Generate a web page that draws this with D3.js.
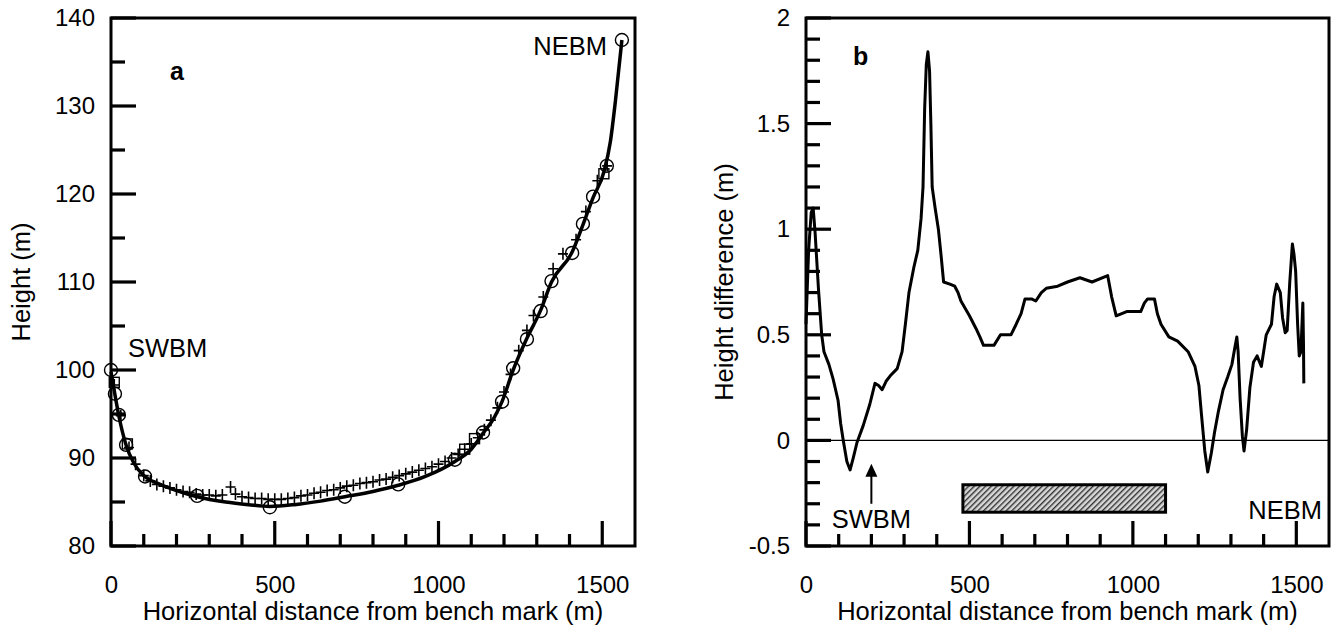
<!DOCTYPE html>
<html>
<head>
<meta charset="utf-8">
<script src="https://cdn.jsdelivr.net/npm/d3@7.9.0/dist/d3.min.js"></script>
<style>
  html, body { margin: 0; padding: 0; background: #fff; }
  svg { display: block; font-family: "Liberation Sans", Arial, Helvetica, sans-serif; }
</style>
</head>
<body>
<svg id="chart" width="1337" height="625"></svg>
<script>
// ---- data ----
const xTicks = [0, 500, 1000, 1500];
const heightTicks = [80, 90, 100, 110, 120, 130, 140];
const diffTicks = [-0.5, 0, 0.5, 1, 1.5, 2];

// panel a: fitted profile (thick line)
const profileLine = [
  [0, 99.8], [12, 97.2], [25, 94.6], [45, 91.6], [70, 89.4], [100, 88.0], [150, 87.0],
  [200, 86.3], [263, 85.6], [350, 85.0], [420, 84.7], [485, 84.5], [560, 84.7], [640, 85.1],
  [714, 85.6], [800, 86.2], [877, 86.9], [960, 87.9], [1050, 89.6], [1100, 91.0], [1136, 92.8],
  [1170, 94.6], [1194, 96.4], [1228, 100.0], [1270, 103.6], [1312, 106.8], [1345, 110.0],
  [1408, 113.4], [1441, 116.5], [1472, 119.6], [1505, 122.5], [1525, 126.0], [1540, 130.5],
  [1560, 137.5]
];
// panel a: surveyed points (open circles)
const circlePts = [
  [0, 100], [12, 97.3], [24, 94.9], [46, 91.5], [104, 87.9], [263, 85.7], [485, 84.4],
  [714, 85.6], [877, 87.0], [1050, 89.8], [1136, 92.9], [1194, 96.4], [1228, 100.2],
  [1270, 103.5], [1312, 106.7], [1345, 110.1], [1408, 113.3], [1441, 116.6], [1472, 119.7],
  [1514, 123.2], [1560, 137.5]
];
// panel a: plus markers
const plusPts = [
  [10, 98.3], [30, 94.8], [55, 91.2], [75, 89.3], [100, 88.0], [120, 87.4], [140, 87.0],
  [160, 86.8], [180, 86.6], [200, 86.4], [220, 86.2], [240, 86.1], [260, 85.9], [280, 85.8],
  [300, 85.8], [320, 85.7], [340, 85.8], [365, 86.7], [380, 85.9], [400, 85.6], [420, 85.5],
  [440, 85.4], [460, 85.4], [480, 85.3], [500, 85.3], [520, 85.3], [540, 85.4], [560, 85.5],
  [580, 85.7], [600, 85.8], [620, 86.0], [640, 86.1], [660, 86.3], [680, 86.4], [700, 86.6],
  [720, 86.8], [740, 86.9], [760, 87.1], [780, 87.2], [800, 87.3], [820, 87.5], [840, 87.6],
  [860, 87.8], [880, 88.0], [900, 88.2], [920, 88.4], [940, 88.6], [960, 88.8], [980, 89.0],
  [1000, 89.3], [1020, 89.6], [1040, 90.0], [1060, 90.4], [1080, 91.0], [1100, 91.6],
  [1120, 92.3], [1140, 93.2], [1160, 94.3], [1180, 95.7], [1200, 97.5], [1220, 99.5],
  [1245, 102.2], [1270, 104.5], [1290, 106.2], [1320, 108.3], [1350, 111.5], [1380, 113.2],
  [1420, 114.8], [1450, 118.0], [1485, 121.5], [1515, 123.2]
];
// panel a: square markers
const squarePts = [[10, 98.6], [50, 91.6], [1080, 91.0], [1110, 92.2], [1505, 122.3]];

// panel b: height difference
const diffLine = [
  [0, 0.55], [8, 0.9], [16, 1.08], [22, 1.1], [28, 0.98], [38, 0.72], [48, 0.5], [55, 0.42],
  [70, 0.36], [83, 0.29], [98, 0.19], [106, 0.08], [114, 0.0], [125, -0.1], [135, -0.14],
  [145, -0.08], [156, -0.01], [175, 0.07], [195, 0.17], [211, 0.27], [222, 0.26], [233, 0.24],
  [245, 0.28], [260, 0.31], [279, 0.34], [294, 0.42], [304, 0.55], [315, 0.7], [330, 0.82],
  [342, 0.9], [352, 1.05], [358, 1.2], [363, 1.57], [368, 1.78], [373, 1.84], [378, 1.75],
  [382, 1.5], [386, 1.2], [395, 1.1], [405, 1.0], [413, 0.88], [421, 0.75], [440, 0.74],
  [455, 0.73], [465, 0.7], [474, 0.66], [485, 0.63], [500, 0.59], [520, 0.53], [532, 0.49],
  [543, 0.45], [560, 0.45], [575, 0.45], [595, 0.5], [627, 0.5], [643, 0.55], [658, 0.6],
  [670, 0.67], [690, 0.67], [703, 0.66], [720, 0.7], [735, 0.72], [770, 0.73], [800, 0.75],
  [838, 0.77], [875, 0.75], [923, 0.78], [935, 0.68], [949, 0.59], [981, 0.61], [1024, 0.61],
  [1035, 0.65], [1045, 0.67], [1066, 0.67], [1075, 0.6], [1086, 0.55], [1110, 0.49],
  [1137, 0.47], [1169, 0.42], [1190, 0.35], [1202, 0.26], [1210, 0.12], [1220, -0.05],
  [1229, -0.15], [1240, -0.06], [1250, 0.04], [1262, 0.14], [1276, 0.24], [1290, 0.3],
  [1303, 0.36], [1312, 0.44], [1318, 0.49], [1322, 0.42], [1328, 0.2], [1335, 0.02],
  [1340, -0.05], [1348, 0.05], [1358, 0.25], [1369, 0.37], [1380, 0.4], [1393, 0.35],
  [1400, 0.42], [1408, 0.5], [1424, 0.55], [1432, 0.68], [1440, 0.74], [1451, 0.7],
  [1458, 0.58], [1466, 0.51], [1472, 0.52], [1480, 0.75], [1488, 0.93], [1493, 0.88],
  [1498, 0.8], [1504, 0.55], [1509, 0.4], [1514, 0.42], [1520, 0.65], [1522, 0.45], [1523, 0.27]
];
// hatched segment and bench mark arrow (panel b)
const hatchSpan = { x0: 480, x1: 1100, y0: -0.34, y1: -0.21 };
const swbmArrow = { x: 200, yTip: -0.11, yTail: -0.3 };

// ---- drawing ----
const svg = d3.select('#chart');
const plotTop = 18, plotBottom = 546;
const TICK_FONT = 24, TITLE_FONT = 25.5;

const defs = svg.append('defs');
const pat = defs.append('pattern').attr('id', 'hatch').attr('patternUnits', 'userSpaceOnUse')
  .attr('width', 4).attr('height', 4).attr('patternTransform', 'rotate(45)');
pat.append('rect').attr('width', 4).attr('height', 4).attr('fill', '#d8d8d8');
pat.append('rect').attr('width', 1.4).attr('height', 4).attr('fill', '#333');

const fmt = d => String(d);

function frame(g, x, y, xTitle, yTitle, yTickVals, yMinor, titleX) {
  const [x0, x1] = x.range();
  const xMinor = d3.range(100, 1600, 100).filter(v => v % 500 !== 0);

  g.append('path')
    .attr('d', `M${x0},${plotTop}H${x1}V${plotBottom}H${x0}Z`)
    .attr('fill', 'none').attr('stroke', '#000').attr('stroke-width', 3);

  // labels from d3 axes
  g.append('g').attr('class', 'ax').attr('transform', `translate(0,${plotBottom})`)
    .call(d3.axisBottom(x).tickValues(xTicks).tickSize(0).tickPadding(30).tickFormat(fmt));
  g.append('g').attr('class', 'ax').attr('transform', `translate(${x0},0)`)
    .call(d3.axisLeft(y).tickValues(yTickVals).tickSize(0).tickPadding(16).tickFormat(fmt));
  g.selectAll('.ax .domain').remove();
  g.selectAll('.ax text').attr('font-size', TICK_FONT).attr('fill', '#000')
    .attr('font-family', 'Liberation Sans, Arial, sans-serif');

  // inward tick marks as small filled bars, placed by the scales
  const xt = xTicks.map(v => [v, 25]).concat(xMinor.map(v => [v, 12]));
  const yt = yTickVals.map(v => [v, 25]).concat(yMinor.map(v => [v, 14]));
  const marks = g.append('g').attr('fill', '#000');
  marks.selectAll('.xtick').data(xt).join('rect').attr('class', 'xtick')
    .attr('x', d => x(d[0]) - 1.6).attr('y', d => plotBottom - d[1])
    .attr('width', 3.2).attr('height', d => d[1]);
  marks.selectAll('.ytick').data(yt).join('rect').attr('class', 'ytick')
    .attr('x', x0).attr('y', d => y(d[0]) - 1.6)
    .attr('width', d => d[1]).attr('height', 3.2);

  g.append('text').attr('x', (x0 + x1) / 2).attr('y', 620).attr('text-anchor', 'middle')
    .attr('font-size', TITLE_FONT).text(xTitle);
  g.append('text').attr('transform', `translate(${titleX},${(plotTop + plotBottom) / 2}) rotate(-90)`)
    .attr('text-anchor', 'middle').attr('font-size', TITLE_FONT).text(yTitle);
}

// panel a
const xa = d3.scaleLinear().domain([0, 1600]).range([111, 635]);
const ya = d3.scaleLinear().domain([80, 140]).range([plotBottom, plotTop]);
const ga = svg.append('g');
frame(ga, xa, ya, 'Horizontal distance from bench mark (m)', 'Height (m)',
  heightTicks, d3.range(85, 140, 10), 30);

ga.append('path').datum(profileLine)
  .attr('fill', 'none').attr('stroke', '#000').attr('stroke-width', 3.5)
  .attr('d', d3.line().x(d => xa(d[0])).y(d => ya(d[1])).curve(d3.curveMonotoneX));

ga.selectAll('.plus').data(plusPts).join('path').attr('class', 'plus')
  .attr('transform', d => `translate(${xa(d[0])},${ya(d[1])})`)
  .attr('d', 'M-5,0H5M0,-6V6').attr('stroke', '#000').attr('stroke-width', 1.6).attr('fill', 'none');
ga.selectAll('.sq').data(squarePts).join('rect').attr('class', 'sq')
  .attr('x', d => xa(d[0]) - 5).attr('y', d => ya(d[1]) - 5).attr('width', 10).attr('height', 10)
  .attr('fill', 'none').attr('stroke', '#000').attr('stroke-width', 1.4);
ga.selectAll('.circ').data(circlePts).join('circle').attr('class', 'circ')
  .attr('cx', d => xa(d[0])).attr('cy', d => ya(d[1])).attr('r', 6.5)
  .attr('fill', 'none').attr('stroke', '#000').attr('stroke-width', 1.4);

ga.append('text').attr('x', 170).attr('y', 80).attr('font-size', 25).attr('font-weight', 'bold').text('a');
ga.append('text').attr('x', 128).attr('y', 357).attr('font-size', TITLE_FONT).text('SWBM');
ga.append('text').attr('x', 607).attr('y', 55).attr('text-anchor', 'end').attr('font-size', TITLE_FONT).text('NEBM');

// panel b
const xb = d3.scaleLinear().domain([0, 1600]).range([806, 1329]);
const yb = d3.scaleLinear().domain([-0.5, 2]).range([plotBottom, plotTop]);
const gb = svg.append('g');
frame(gb, xb, yb, 'Horizontal distance from bench mark (m)', 'Height difference (m)',
  diffTicks, d3.range(-4, 20).filter(i => i % 5 !== 0).map(i => i / 10), 733);

gb.append('path').attr('d', `M${xb(0)},${yb(0)}H${xb(1600)}`)
  .attr('stroke', '#000').attr('stroke-width', 1.2);

gb.append('rect')
  .attr('x', xb(hatchSpan.x0)).attr('y', yb(hatchSpan.y1))
  .attr('width', xb(hatchSpan.x1) - xb(hatchSpan.x0)).attr('height', yb(hatchSpan.y0) - yb(hatchSpan.y1))
  .attr('fill', 'url(#hatch)').attr('stroke', '#000').attr('stroke-width', 3);

gb.append('path').datum(diffLine)
  .attr('fill', 'none').attr('stroke', '#000').attr('stroke-width', 3)
  .attr('stroke-linejoin', 'round')
  .attr('d', d3.line().x(d => xb(d[0])).y(d => yb(d[1])));

const arrowX = xb(swbmArrow.x), tipY = yb(swbmArrow.yTip);
gb.append('path').attr('d', `M${arrowX},${tipY + 10}V${yb(swbmArrow.yTail)}`)
  .attr('stroke', '#000').attr('stroke-width', 2);
gb.append('path').attr('d', `M${arrowX},${tipY}L${arrowX - 6},${tipY + 13}L${arrowX + 6},${tipY + 13}Z`).attr('fill', '#000');

gb.append('text').attr('x', 853).attr('y', 65).attr('font-size', 25).attr('font-weight', 'bold').text('b');
gb.append('text').attr('x', arrowX).attr('y', 528).attr('text-anchor', 'middle').attr('font-size', TITLE_FONT).text('SWBM');
gb.append('text').attr('x', 1322).attr('y', 519).attr('text-anchor', 'end').attr('font-size', TITLE_FONT).text('NEBM');
</script>
</body>
</html>
